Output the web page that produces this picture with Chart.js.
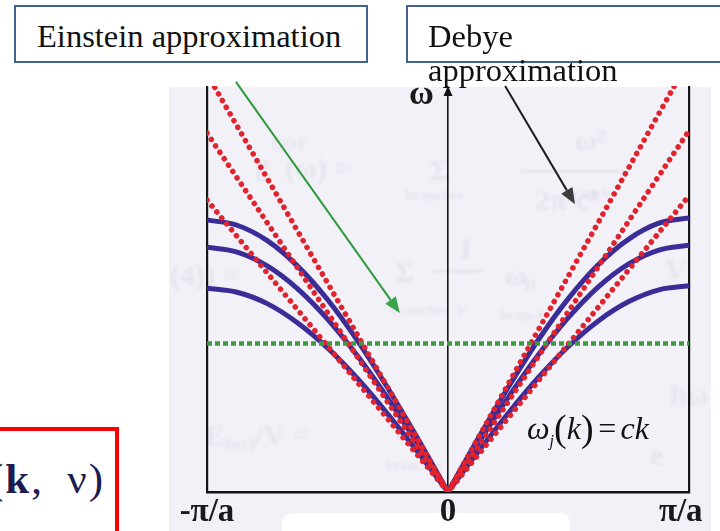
<!DOCTYPE html>
<html>
<head>
<meta charset="utf-8">
<script src="https://cdn.jsdelivr.net/npm/chart.js@4.4.0/dist/chart.umd.min.js"></script>
<style>
  html, body { margin: 0; padding: 0; background: #fff; }
  #wrap { position: relative; width: 720px; height: 531px; overflow: hidden; }
  #wrap canvas { position: absolute; left: 0; top: 0; }
  .box { position: absolute; box-sizing: border-box; border: 2px solid #41648f; background: #fff; }
  .txt { position: absolute; font-family: 'Liberation Serif', serif; color: #111; line-height: 1; white-space: nowrap; }
  .head { font-size: 32.5px; }
  #redbox { position: absolute; left: -10px; top: 427px; width: 129px; height: 130px; box-sizing: border-box; border: 4px solid #ff0000; background: #fff; }
  #kv { left: -11px; top: 457px; font-size: 43px; color: #1c1c50; letter-spacing: 2px; }
  #omega { left: 409px; top: 76px; font-size: 34px; font-weight: bold; color: #1a1a1a; }
  #disp { left: 527px; top: 409px; font-size: 32px; font-style: italic; color: #111; }
  #disp .par { font-style: normal; font-size: 38px; vertical-align: -2px; }
  #disp sub { font-size: 16px; vertical-align: -7px; }
</style>
</head>
<body>
<div id="wrap">
  <canvas id="dispChart" width="720" height="531"></canvas>
  <div class="box" style="left:14px;top:5px;width:354px;height:58px"></div>
  <div class="box" style="left:406px;top:5px;width:330px;height:58px"></div>
  <div class="txt head" style="left:37px;top:20px">Einstein approximation</div>
  <div class="txt head" style="left:428px;top:20px">Debye</div>
  <div class="txt head" style="left:428px;top:54px">approximation</div>
  <div id="redbox"></div>
  <div class="txt" id="kv">(<b>k</b>,&#8201; ν)</div>
  <div class="txt" id="omega">ω</div>
  <div class="txt" id="disp">ω<sub>j</sub><span class="par">(</span>k<span class="par">)</span>&#8202;=&#8202;ck</div>
</div>
<script>
// wave vector in units of pi/a, frequency in arbitrary units
const kLeft = [-1, -0.875, -0.75, -0.625, -0.5, -0.375, -0.25, -0.125, 0];
const kRight = [0, 0.125, 0.25, 0.375, 0.5, 0.625, 0.75, 0.875, 1];

// three acoustic branches
const upperLeft = [0.67, 0.657, 0.619, 0.557, 0.474, 0.372, 0.256, 0.131, 0];
const upperRight = [0, 0.132, 0.258, 0.375, 0.477, 0.561, 0.623, 0.662, 0.675];
const middleLeft = [0.603, 0.591, 0.557, 0.501, 0.426, 0.335, 0.231, 0.118, 0];
const middleRight = [0, 0.119, 0.233, 0.338, 0.43, 0.506, 0.562, 0.596, 0.608];
const lowerLeft = [0.502, 0.492, 0.464, 0.417, 0.355, 0.279, 0.192, 0.098, 0];
const lowerRight = [0, 0.099, 0.194, 0.282, 0.359, 0.422, 0.469, 0.498, 0.508];

// Debye lines: omega at k = -pi/a, 0, +pi/a
const debyeK = [-1, 0, 1];
const debyeUpper = [1.03, 0, 1.065];
const debyeMiddle = [0.884, 0, 0.89];
const debyeLower = [0.719, 0, 0.73];

// Einstein level
const einsteinK = [-1, 1];
const einsteinLevel = [0.366, 0.366];

const tickValues = [-1, 0, 1];
const tickLabels = ['-π/a', '0', 'π/a\u2002'];

// arrow ends in (k, omega)
const einsteinArrow = [[-0.88, 1.01], [-0.2, 0.441]];
const debyeArrow = [[0.237, 1.0], [0.527, 0.709]];

const BLUE = '#3b2d97';
const RED = '#e0232c';
const GREEN = '#3a9c3e';

const pts = (ks, ws) => ks.map((k, i) => ({ x: k, y: ws[i] }));

const branch = (ks, ws) => ({
  data: pts(ks, ws),
  borderColor: BLUE,
  borderWidth: 5,
  pointRadius: 0,
  cubicInterpolationMode: 'monotone',
  order: 3
});

const debye = ws => ({
  data: pts(debyeK, ws),
  borderColor: RED,
  borderWidth: 5.5,
  borderDash: [0.1, 7.6],
  borderCapStyle: 'round',
  pointRadius: 0,
  tension: 0,
  order: 2
});

// scanned page background + faint show-through formulas
const pagePlugin = {
  id: 'page',
  beforeDraw(chart) {
    const ctx = chart.ctx;
    ctx.save();
    ctx.fillStyle = '#fff';
    ctx.fillRect(0, 0, chart.width, chart.height);
    ctx.fillStyle = '#f2f1f8';
    ctx.fillRect(169, 87, 542, 444);
    ctx.fillStyle = '#fff';
    ctx.beginPath();
    ctx.roundRect(282, 513, 288, 30, 10);
    ctx.fill();

    ctx.filter = 'blur(1.4px)';
    ctx.fillStyle = 'rgba(110,110,130,0.09)';
    ctx.font = 'bold 30px "Liberation Serif"';
    ctx.fillText('g', 255, 175);
    ctx.font = 'bold 16px "Liberation Serif"';
    ctx.fillText('DOT', 272, 150);
    ctx.font = 'bold 30px "Liberation Serif"';
    ctx.fillText('(ω) =', 285, 178);
    ctx.fillText('Σ', 430, 180);
    ctx.fillText('ω²', 575, 150);
    ctx.fillText('2π²c³', 535, 210);
    ctx.fillRect(520, 170, 110, 3);
    ctx.font = 'bold 15px "Liberation Serif"';
    ctx.fillText('branches', 405, 200);
    ctx.fillText('branch', 565, 198);

    ctx.font = 'bold 30px "Liberation Serif"';
    ctx.fillText('(4)) =', 170, 285);
    ctx.fillText('Σ', 395, 282);
    ctx.fillText('1', 458, 258);
    ctx.fillRect(432, 270, 50, 3);
    ctx.fillText('ω', 505, 285);
    ctx.fillText('V', 665, 280);
    ctx.font = 'bold 15px "Liberation Serif"';
    ctx.fillText('D', 525, 290);
    ctx.fillText('branches  V', 390, 315);
    ctx.fillText('branch', 500, 320);

    ctx.font = 'bold 30px "Liberation Serif"';
    ctx.fillText('E', 205, 445);
    ctx.fillText('/V =', 255, 445);
    ctx.fillText('Σ', 395, 440);
    ctx.fillText('ħω', 670, 405);
    ctx.fillText('e', 650, 465);
    ctx.font = 'bold 15px "Liberation Serif"';
    ctx.fillText('DOT', 225, 450);
    ctx.fillText('branches', 385, 470);
    ctx.restore();
  }
};

const drawArrow = (ctx, x0, y0, x1, y1, color, headColor) => {
  const ang = Math.atan2(y1 - y0, x1 - x0);
  const len = 16, half = 6.5;
  const bx = x1 - len * Math.cos(ang), by = y1 - len * Math.sin(ang);
  ctx.strokeStyle = color;
  ctx.lineWidth = 2;
  ctx.beginPath();
  ctx.moveTo(x0, y0);
  ctx.lineTo(bx, by);
  ctx.stroke();
  ctx.fillStyle = headColor;
  ctx.beginPath();
  ctx.moveTo(x1, y1);
  ctx.lineTo(bx + half * Math.sin(ang), by - half * Math.cos(ang));
  ctx.lineTo(bx - half * Math.sin(ang), by + half * Math.cos(ang));
  ctx.closePath();
  ctx.fill();
};

// pointer arrows and the omega axis tip
const arrowPlugin = {
  id: 'arrows',
  afterDatasetsDraw(chart) {
    const { ctx, scales: { x, y }, chartArea } = chart;
    ctx.save();
    const [ea, eb] = einsteinArrow;
    drawArrow(ctx, x.getPixelForValue(ea[0]), y.getPixelForValue(ea[1]),
      x.getPixelForValue(eb[0]), y.getPixelForValue(eb[1]), '#2f9a3c', '#3aa54a');
    const [da, db] = debyeArrow;
    drawArrow(ctx, x.getPixelForValue(da[0]), y.getPixelForValue(da[1]),
      x.getPixelForValue(db[0]), y.getPixelForValue(db[1]), '#1e1e1e', '#3c3c3c');

    const cx = x.getPixelForValue(0);
    ctx.fillStyle = '#111';
    ctx.beginPath();
    ctx.moveTo(cx, chartArea.top);
    ctx.lineTo(cx - 4.5, chartArea.top + 10);
    ctx.lineTo(cx + 4.5, chartArea.top + 10);
    ctx.closePath();
    ctx.fill();
    ctx.restore();
  }
};

new Chart(document.getElementById('dispChart').getContext('2d'), {
  type: 'line',
  data: {
    datasets: [
      {
        data: pts(einsteinK, einsteinLevel),
        borderColor: GREEN,
        borderWidth: 4.5,
        borderDash: [5, 3],
        pointRadius: 0,
        order: 1
      },
      debye(debyeUpper),
      debye(debyeMiddle),
      debye(debyeLower),
      branch(kLeft, upperLeft),
      branch(kRight, upperRight),
      branch(kLeft, middleLeft),
      branch(kRight, middleRight),
      branch(kLeft, lowerLeft),
      branch(kRight, lowerRight)
    ]
  },
  options: {
    responsive: false,
    animation: false,
    devicePixelRatio: 1,
    layout: { padding: { left: 207, right: 31, top: 86, bottom: 0 } },
    plugins: { legend: { display: false }, tooltip: { enabled: false } },
    scales: {
      x: {
        type: 'linear',
        min: -1,
        max: 1,
        afterBuildTicks: s => { s.ticks = tickValues.map(v => ({ value: v })); },
        afterFit: s => { s.height = 39; s.paddingLeft = 0; s.paddingRight = 0; },
        ticks: {
          autoSkip: false,
          maxRotation: 0,
          padding: 2,
          color: '#1a1a1a',
          font: { family: 'Liberation Serif', size: 33, weight: 'bold', lineHeight: 1.1 },
          callback: v => tickLabels[tickValues.indexOf(v)]
        },
        grid: {
          drawTicks: false,
          color: '#151515',
          lineWidth: c => (c.tick && c.tick.value === 0 ? 1.6 : 2.2)
        },
        border: { display: true, color: '#151515', width: 2.4 }
      },
      y: {
        type: 'linear',
        min: 0,
        max: 1,
        display: false
      }
    }
  },
  plugins: [pagePlugin, arrowPlugin]
});
</script>
</body>
</html>
